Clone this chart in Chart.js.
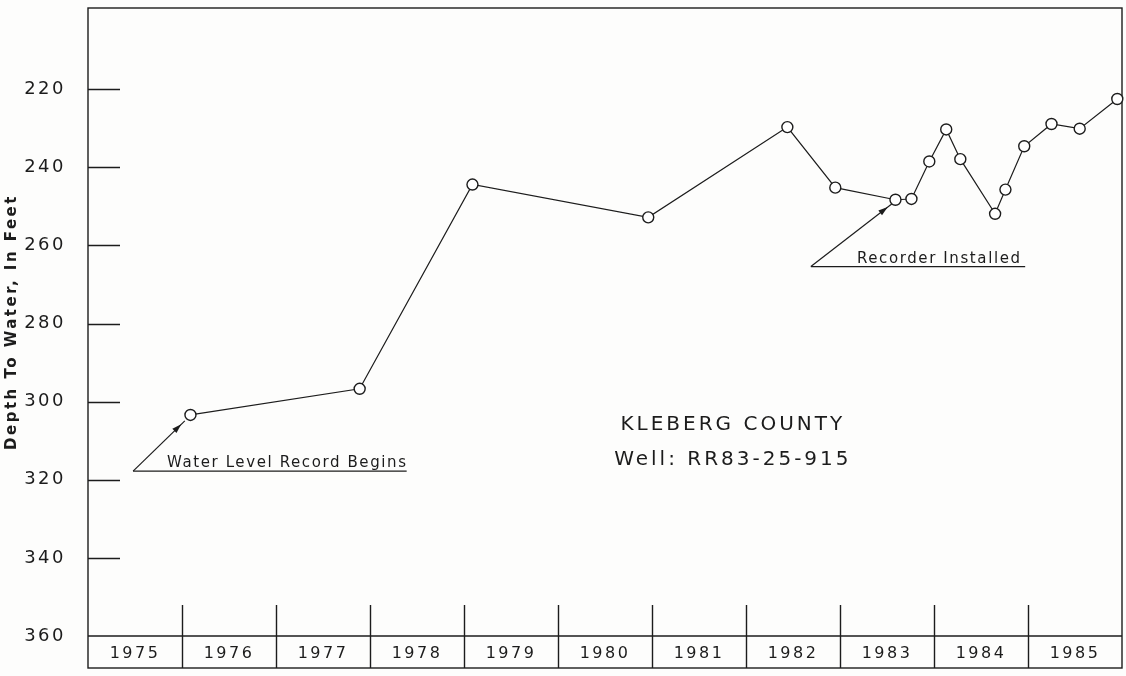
<!DOCTYPE html>
<html>
<head>
<meta charset="utf-8">
<script src="https://cdn.jsdelivr.net/npm/chart.js@4.4.1/dist/chart.umd.min.js"></script>
<style>
  html, body { margin: 0; padding: 0; background: #fdfdfc; }
  #wrap { width: 1126px; height: 676px; position: relative; }
</style>
</head>
<body>
<div id="wrap"><canvas id="grafico"></canvas></div>
<script>
// datos
const years = [1975, 1976, 1977, 1978, 1979, 1980, 1981, 1982, 1983, 1984, 1985]
const yTicks = [220, 240, 260, 280, 300, 320, 340, 360]
const dates = [1976.09, 1977.89, 1979.09, 1980.96, 1982.44, 1982.95, 1983.59, 1983.76, 1983.95,
  1984.13, 1984.28, 1984.65, 1984.76, 1984.96, 1985.25, 1985.55, 1985.95]
const depths = [303.4, 296.7, 244.4, 252.8, 229.7, 245.2, 248.3, 248.1, 238.5,
  230.3, 237.9, 251.9, 245.7, 234.6, 228.9, 230.1, 222.5]

const tinta = '#1c1c1c'
const fuente = '"DejaVu Sans", sans-serif'

// notas del grafico (en unidades de los ejes)
const notas = [
  { texto: 'Water Level Record Begins', desde: [1975.48, 317.8], hasta: [1978.39, 317.8], punta: [1976.03, 304.9], textoX: 1975.84 },
  { texto: 'Recorder Installed', desde: [1982.69, 265.4], hasta: [1984.97, 265.4], punta: [1983.55, 249.4], textoX: 1983.18 }
]
const titulo = ['KLEBERG COUNTY', 'Well: RR83-25-915']

const puntos = dates.map((d, i) => ({ x: d, y: depths[i] }))

const flecha = (ctx, x1, y1, x2, y2) => {
  const ang = Math.atan2(y2 - y1, x2 - x1)
  ctx.beginPath()
  ctx.moveTo(x1, y1)
  ctx.lineTo(x2, y2)
  ctx.stroke()
  // punta de flecha un poco antes del final
  const px = x2 - Math.cos(ang) * 5, py = y2 - Math.sin(ang) * 5
  ctx.beginPath()
  ctx.moveTo(px, py)
  ctx.lineTo(px - Math.cos(ang - 0.3) * 10, py - Math.sin(ang - 0.3) * 10)
  ctx.lineTo(px - Math.cos(ang + 0.3) * 10, py - Math.sin(ang + 0.3) * 10)
  ctx.closePath()
  ctx.fill()
}

const marco = {
  id: 'marco',
  beforeDraw(chart) {
    chart.ctx.letterSpacing = '2.5px'
  },
  beforeDatasetsDraw(chart) {
    const ctx = chart.ctx
    const { left, right, top, bottom } = chart.chartArea
    const x = chart.scales.x, y = chart.scales.y
    ctx.save()
    ctx.strokeStyle = tinta
    ctx.lineWidth = 1.4
    ctx.strokeRect(left, top, right - left, x.bottom - top)
    ctx.beginPath()
    ctx.moveTo(left, bottom)
    ctx.lineTo(right, bottom)
    years.slice(1).forEach(a => {
      const px = Math.round(x.getPixelForValue(a)) + 0.5
      ctx.moveTo(px, bottom - 31)
      ctx.lineTo(px, x.bottom)
    })
    yTicks.slice(0, -1).forEach(v => {
      const py = Math.round(y.getPixelForValue(v)) + 0.5
      ctx.moveTo(left, py)
      ctx.lineTo(left + 32, py)
    })
    ctx.stroke()
    ctx.restore()
  },
  afterDatasetsDraw(chart) {
    const ctx = chart.ctx
    const x = chart.scales.x, y = chart.scales.y
    ctx.save()
    ctx.strokeStyle = tinta
    ctx.fillStyle = tinta
    ctx.lineWidth = 1.2
    notas.forEach(n => {
      const x1 = x.getPixelForValue(n.desde[0]), y1 = y.getPixelForValue(n.desde[1])
      const x2 = x.getPixelForValue(n.hasta[0])
      ctx.beginPath()
      ctx.moveTo(x1, y1)
      ctx.lineTo(x2, y1)
      ctx.stroke()
      flecha(ctx, x1, y1, x.getPixelForValue(n.punta[0]), y.getPixelForValue(n.punta[1]))
      ctx.font = '15px ' + fuente
      ctx.letterSpacing = '1.6px'
      ctx.textAlign = 'left'
      ctx.textBaseline = 'alphabetic'
      ctx.fillText(n.texto, x.getPixelForValue(n.textoX), y1 - 4)
    })
    ctx.font = '20px ' + fuente
    ctx.letterSpacing = '3px'
    ctx.textAlign = 'center'
    ctx.textBaseline = 'middle'
    const cx = x.getPixelForValue(1981.86)
    ctx.fillText(titulo[0], cx, y.getPixelForValue(305.8))
    ctx.fillText(titulo[1], cx, y.getPixelForValue(315.0))
    ctx.restore()
  }
}

const sinRelleno = s => { s.paddingTop = 0; s.paddingBottom = 0; s.paddingLeft = 0; s.paddingRight = 0 }

const ctx = document.getElementById('grafico').getContext('2d')
const myChart = new Chart(ctx, {
  type: 'scatter',
  data: {
    datasets: [{
      label: 'Depth',
      data: puntos,
      showLine: true,
      borderColor: tinta,
      borderWidth: 1.2,
      pointRadius: 5.5,
      pointBorderWidth: 1.4,
      pointBackgroundColor: '#ffffff',
      pointBorderColor: tinta,
      tension: 0,
      clip: false
    }]
  },
  options: {
    responsive: true,
    maintainAspectRatio: false,
    animation: false,
    events: [],
    layout: { autoPadding: false, padding: { top: 8, right: 4, bottom: 8, left: 0 } },
    plugins: { legend: { display: false }, tooltip: { enabled: false } },
    scales: {
      x: {
        type: 'linear',
        min: 1975,
        max: 1986,
        afterFit: s => { s.height = 32; sinRelleno(s) },
        afterBuildTicks: s => { s.ticks = years.map(a => ({ value: a + 0.5 })) },
        grid: { display: false, drawTicks: false },
        border: { display: false },
        ticks: {
          autoSkip: false,
          maxRotation: 0,
          padding: 8,
          color: tinta,
          font: { family: fuente, size: 16 },
          callback: v => String(Math.floor(v))
        }
      },
      y: {
        type: 'linear',
        reverse: true,
        min: 199.2,
        max: 360,
        afterFit: s => { s.width = 88; sinRelleno(s) },
        afterBuildTicks: s => { s.ticks = yTicks.map(v => ({ value: v })) },
        grid: { display: false, drawTicks: false },
        border: { display: false },
        ticks: {
          padding: 22,
          color: tinta,
          font: { family: fuente, size: 18 }
        },
        title: {
          display: true,
          text: 'Depth To Water, In Feet',
          color: tinta,
          font: { family: fuente, size: 15, weight: 'bold' },
          padding: { top: 3, bottom: 0 }
        }
      }
    }
  },
  plugins: [marco]
})
</script>
</body>
</html>
